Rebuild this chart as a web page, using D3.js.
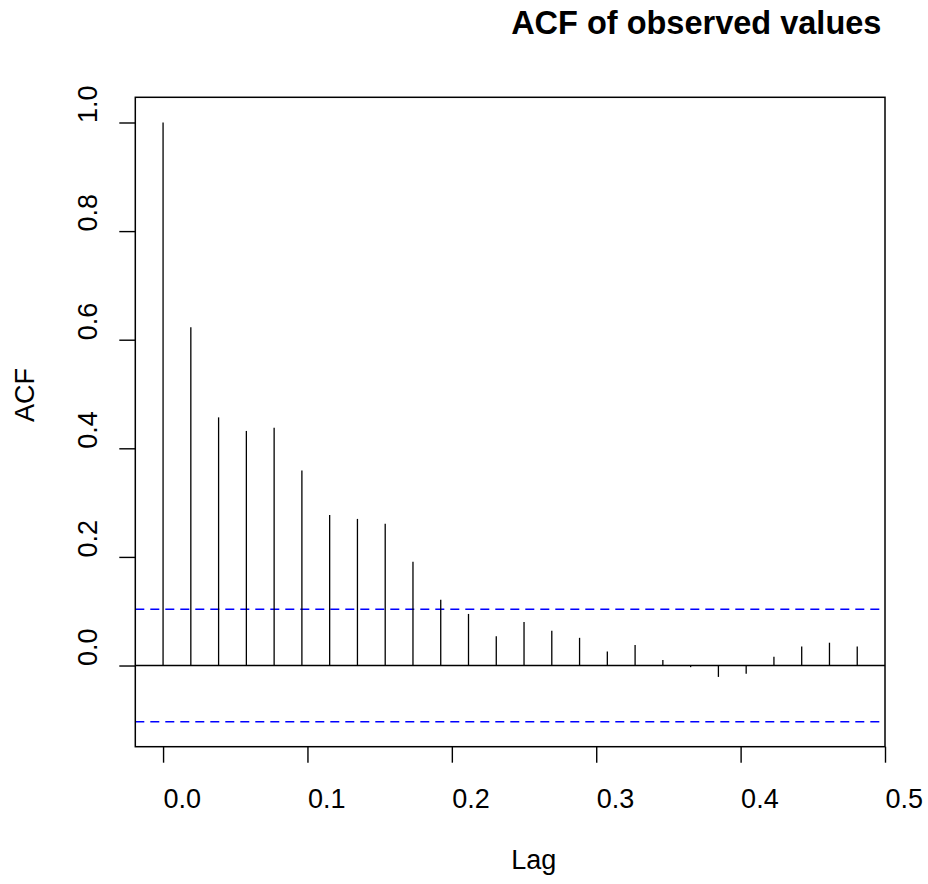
<!DOCTYPE html>
<html>
<head>
<meta charset="utf-8">
<script src="https://cdn.jsdelivr.net/npm/d3@7"></script>
<style>
  body { margin: 0; background: #fff; }
  svg { display: block; font-family: "Liberation Sans", Arial, sans-serif; }
</style>
</head>
<body>
<div id="chart"></div>
<script>
const width = 928;
const height = 884;

// acf of a weekly series (frequency 52), lags in years
const lags = [0, 0.01923, 0.03846, 0.05769, 0.07692, 0.09615, 0.11538, 0.13462,
  0.15385, 0.17308, 0.19231, 0.21154, 0.23077, 0.25, 0.26923, 0.28846,
  0.30769, 0.32692, 0.34615, 0.36538, 0.38462, 0.40385, 0.42308, 0.44231,
  0.46154, 0.48077];
const acfValues = [1.0, 0.623, 0.457, 0.432, 0.438, 0.359, 0.277, 0.270,
  0.261, 0.191, 0.121, 0.095, 0.054, 0.080, 0.064, 0.051,
  0.026, 0.038, 0.010, -0.003, -0.021, -0.015, 0.016, 0.035,
  0.042, 0.035];
const confLimit = 0.1035;
const xTicks = [0, 0.1, 0.2, 0.3, 0.4, 0.5];
const yTicks = [0, 0.2, 0.4, 0.6, 0.8, 1.0];
const xLim = [-0.01923, 0.5];
const yLim = [-0.1495, 1.0464];

const plot = { left: 135.3, right: 885, top: 97.3, bottom: 746.7 };
const midX = (plot.left + plot.right) / 2;
const midY = (plot.top + plot.bottom) / 2;

const svg = d3.select("#chart")
  .append("svg")
  .attr("width", width)
  .attr("height", height);

const x = d3.scaleLinear().domain(xLim).range([plot.left, plot.right]);
const y = d3.scaleLinear().domain(yLim).range([plot.bottom, plot.top]);

// title (texts in this plot start at the anchor point)
svg.append("text")
  .attr("x", midX + 1)
  .attr("y", 33.5)
  .attr("font-weight", "bold")
  .attr("font-size", 32.5)
  .text("ACF of observed values");

// confidence bands
svg.selectAll(".conf")
  .data([confLimit, -confLimit])
  .enter()
  .append("line")
  .attr("class", "conf")
  .attr("x1", plot.left)
  .attr("x2", plot.right)
  .attr("y1", d => y(d))
  .attr("y2", d => y(d))
  .attr("stroke", "#0000ff")
  .attr("stroke-width", 1.4)
  .attr("stroke-dasharray", "9,6");

// zero line
svg.append("line")
  .attr("x1", plot.left)
  .attr("x2", plot.right)
  .attr("y1", y(0))
  .attr("y2", y(0))
  .attr("stroke", "#000")
  .attr("stroke-width", 1.4);

// spikes
svg.selectAll(".spike")
  .data(lags)
  .enter()
  .append("line")
  .attr("class", "spike")
  .attr("x1", d => x(d))
  .attr("x2", d => x(d))
  .attr("y1", y(0))
  .attr("y2", (d, i) => y(acfValues[i]))
  .attr("stroke", "#000")
  .attr("stroke-width", 1.3);

// box
svg.append("rect")
  .attr("x", plot.left)
  .attr("y", plot.top)
  .attr("width", plot.right - plot.left)
  .attr("height", plot.bottom - plot.top)
  .attr("fill", "none")
  .attr("stroke", "#000")
  .attr("stroke-width", 1.5);

// x axis
const xAxis = svg.append("g")
  .attr("transform", `translate(0,${plot.bottom})`)
  .call(d3.axisBottom(x)
    .tickValues(xTicks)
    .tickSize(16)
    .tickFormat(d3.format(".1f")));
xAxis.select(".domain").remove();
xAxis.selectAll("line").attr("stroke-width", 1.4);
xAxis.selectAll("text")
  .attr("font-family", "Liberation Sans, Arial, sans-serif")
  .attr("font-size", 27)
  .attr("fill", "#000")
  .attr("text-anchor", "start")
  .attr("dy", null)
  .attr("y", 61);

// y axis
const yAxis = svg.append("g")
  .attr("transform", `translate(${plot.left},0)`)
  .call(d3.axisLeft(y)
    .tickValues(yTicks)
    .tickSize(16)
    .tickFormat(d3.format(".1f")));
yAxis.select(".domain").remove();
yAxis.selectAll("line").attr("stroke-width", 1.4);
yAxis.selectAll("text")
  .attr("font-family", "Liberation Sans, Arial, sans-serif")
  .attr("font-size", 27)
  .attr("fill", "#000")
  .attr("text-anchor", "start")
  .attr("dy", null)
  .attr("x", null)
  .attr("transform", "translate(-38.3,0) rotate(-90)");

// axis titles
svg.append("text")
  .attr("x", midX + 1)
  .attr("y", 869)
  .attr("font-size", 27)
  .text("Lag");

svg.append("text")
  .attr("transform", `translate(34,${midY}) rotate(-90)`)
  .attr("font-size", 27)
  .text("ACF");
</script>
</body>
</html>
